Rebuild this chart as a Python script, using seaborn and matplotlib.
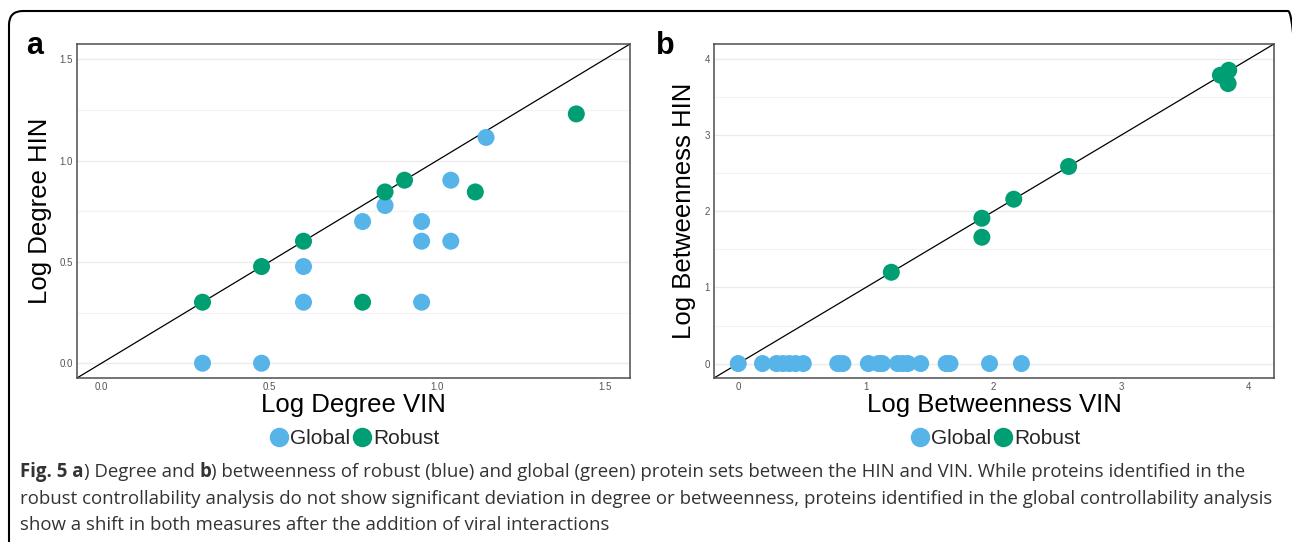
import matplotlib
matplotlib.use("Agg")
import matplotlib.pyplot as plt
import matplotlib.patches as mpatches
from matplotlib.lines import Line2D
from matplotlib.transforms import IdentityTransform
from matplotlib import font_manager
import numpy as np
import pandas as pd
import seaborn as sns

# ---------------- data ----------------
groups = ["Global", "Robust"]
palette = {"Global": "#56B4E9", "Robust": "#009E73"}

deg_global_vin = [0.301, 0.477, 0.602, 0.602, 0.778, 0.845, 0.954, 0.954, 0.954, 1.041, 1.041, 1.146]
deg_global_hin = [0.0, 0.0, 0.477, 0.301, 0.699, 0.778, 0.699, 0.602, 0.301, 0.903, 0.602, 1.114]
deg_robust_vin = [0.301, 0.477, 0.602, 0.845, 0.903, 1.114, 0.778, 1.415]
deg_robust_hin = [0.301, 0.477, 0.602, 0.845, 0.903, 0.845, 0.301, 1.230]

btw_global_vin = [0.0, 0.19, 0.30, 0.35, 0.40, 0.45, 0.51, 0.78, 0.82, 1.02,
                  1.10, 1.13, 1.25, 1.29, 1.33, 1.43, 1.63, 1.66, 1.97, 2.22]
btw_global_hin = [0.0, 0.0, 0.0, 0.0, 0.0, 0.0, 0.0, 0.0, 0.0, 0.0,
                  0.0, 0.0, 0.0, 0.0, 0.0, 0.0, 0.0, 0.0, 0.0, 0.0]
btw_robust_vin = [1.20, 1.91, 1.91, 2.16, 2.59, 3.78, 3.845, 3.84]
btw_robust_hin = [1.20, 1.91, 1.66, 2.16, 2.59, 3.79, 3.855, 3.68]

deg_xticks = [0.0, 0.5, 1.0, 1.5]
deg_xticklabels = ["0.0", "0.5", "1.0", "1.5"]
btw_xticks = [0, 1, 2, 3, 4]
btw_xticklabels = ["0", "1", "2", "3", "4"]

caption_lines = [
    [("Fig. 5 a", "bold"), (") Degree and ", "normal"), ("b", "bold"),
     (") betweenness of robust (blue) and global (green) protein sets between the HIN and VIN. While proteins identified in the", "normal")],
    [("robust controllability analysis do not show significant deviation in degree or betweenness, proteins identified in the global controllability analysis", "normal")],
    [("show a shift in both measures after the addition of viral interactions", "normal")],
]

def frame(vin_g, hin_g, vin_r, hin_r):
    return pd.DataFrame({
        "vin": list(vin_g) + list(vin_r),
        "hin": list(hin_g) + list(hin_r),
        "set": ["Global"] * len(vin_g) + ["Robust"] * len(vin_r),
    })

df_deg = frame(deg_global_vin, deg_global_hin, deg_robust_vin, deg_robust_hin)
df_btw = frame(btw_global_vin, btw_global_hin, btw_robust_vin, btw_robust_hin)

# ---------------- style ----------------
sns.set_theme(style="white")
plt.rcParams["font.family"] = ["Liberation Sans", "DejaVu Sans"]

W, H = 1292, 542
fig = plt.figure(figsize=(W / 100, H / 100), dpi=100)
fig.patch.set_facecolor("white")

def px_axes(left, right, top, bottom):
    return fig.add_axes([left / W, 1 - bottom / H, (right - left) / W, (bottom - top) / H])

ax_a = px_axes(77, 630, 44, 378)
ax_b = px_axes(714, 1274, 44, 378)

def style_panel(ax, df, lim, xticks, xlabels, ymajor, yminor):
    ax.set_facecolor("white")
    ax.axline((0, 0), slope=1, color="black", lw=0.9, zorder=2)
    sns.scatterplot(data=df, x="vin", y="hin", hue="set", hue_order=groups,
                    palette=palette, s=150, linewidth=0, ax=ax, legend=False, zorder=3)
    ax.set_xlim(lim)
    ax.set_ylim(lim)
    ax.set_xticks(xticks)
    ax.set_xticklabels(xlabels)
    ax.set_yticks(xticks)
    ax.set_yticklabels(xlabels)
    for g in ymajor:
        ax.axhline(g, color="#EBEBEB", lw=1.0, zorder=1)
    for g in yminor:
        ax.axhline(g, color="#F2F2F2", lw=0.8, zorder=1)
    ax.tick_params(axis="both", length=0, labelsize=7, colors="#555555", pad=3)
    ax.set_xlabel("")
    ax.set_ylabel("")
    for sp in ax.spines.values():
        sp.set_visible(True)
        sp.set_color("#4D4D4D")
        sp.set_linewidth(1.1)

style_panel(ax_a, df_deg, (-0.073, 1.575), deg_xticks, deg_xticklabels,
            [0.0, 0.5, 1.0, 1.5], [0.25, 0.75, 1.25])
style_panel(ax_b, df_btw, (-0.19, 4.2), btw_xticks, btw_xticklabels,
            [0, 1, 2, 3, 4], [0.5, 1.5, 2.5, 3.5])

def ftext(x, y, s, **kw):
    return fig.text(x / W, 1 - y / H, s, **kw)

# axis titles
ftext(353, 405, "Log Degree VIN", ha="center", va="center", fontsize=18.5, color="black")
ftext(994, 405, "Log Betweenness VIN", ha="center", va="center", fontsize=18.5, color="black")
ftext(40, 211, "Log Degree HIN", ha="center", va="center", rotation=90, fontsize=18.5, color="black")
ftext(684, 211, "Log Betweenness HIN", ha="center", va="center", rotation=90, fontsize=18.5, color="black")

# panel letters
ftext(26, 54, "a", ha="left", va="baseline", fontsize=22, fontweight="bold", color="black")
ftext(656, 54, "b", ha="left", va="baseline", fontsize=22, fontweight="bold", color="black")

# legends
handles = [Line2D([], [], marker="o", linestyle="", markersize=14, markeredgewidth=0,
                  markerfacecolor=palette[g], label=g) for g in groups]
for cx in (354, 995):
    fig.legend(handles=handles, loc="center", bbox_to_anchor=(cx / W, 1 - 439 / H),
               ncol=2, frameon=False, handletextpad=0.0, columnspacing=0.1,
               handlelength=1.0, fontsize=15, borderaxespad=0, borderpad=0)

# border (right side runs just past the image edge)
border = mpatches.FancyBboxPatch((9, -30), 1302 - 9, (H - 11) + 30,
                                 boxstyle="round,pad=0,rounding_size=14",
                                 transform=IdentityTransform(), facecolor="none",
                                 edgecolor="black", lw=1.5, zorder=0)
fig.patches.append(border)

# caption
names = {f.name for f in font_manager.fontManager.ttflist}
cap_family = ["Liberation Sans Narrow"] if "Liberation Sans Narrow" in names else ["Open Sans"]
cap_family = cap_family + ["DejaVu Sans"]
renderer = fig.canvas.get_renderer()

def draw_runs(x0, y0, runs, size):
    x = x0
    for s, w in runs:
        t = ftext(x, y0, s, ha="left", va="baseline", fontsize=size, fontweight=w,
                  family=cap_family, color="#333333")
        x += t.get_window_extent(renderer).width
    return x

probe = ftext(0, 0, caption_lines[1][0][0], fontsize=10, family=cap_family)
pw = probe.get_window_extent(renderer).width
probe.remove()
cap_size = 10 * (1276 - 20) / pw

for runs, yb in zip(caption_lines, (477, 504, 530)):
    draw_runs(20, yb, runs, cap_size)

fig.savefig("out.png", dpi=100, facecolor="white")
